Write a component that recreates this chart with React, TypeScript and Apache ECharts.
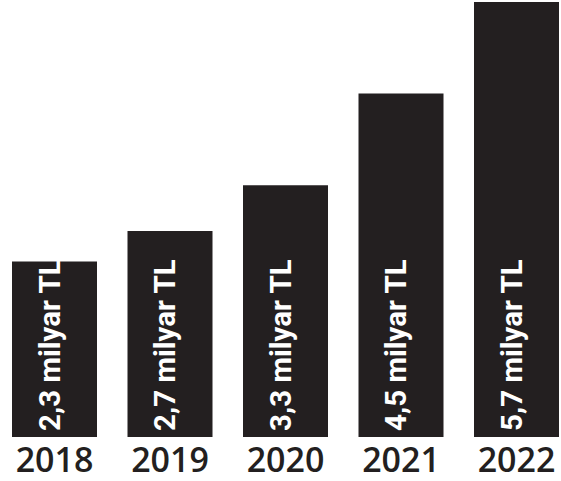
import React, { useEffect, useRef } from "react";
import * as echarts from "echarts";

const years = ["2018", "2019", "2020", "2021", "2022"];
const values = [2.3, 2.7, 3.3, 4.5, 5.7];
const labels = ["2,3 milyar TL", "2,7 milyar TL", "3,3 milyar TL", "4,5 milyar TL", "5,7 milyar TL"];

export default function App() {
  const ref = useRef<HTMLDivElement>(null);
  useEffect(() => {
    if (!ref.current) return;
    const chart = echarts.init(ref.current, null, { renderer: "svg" });
    chart.setOption({
      animation: false,
      backgroundColor: "#ffffff",
      grid: { left: -3.25, width: 577.5, top: 2, bottom: 44, containLabel: false, outerBoundsMode: "none" },
      xAxis: {
        type: "category",
        data: years,
        axisLine: { show: false },
        axisTick: { show: false },
        axisLabel: {
          color: "#231f20",
          fontFamily: "Open Sans",
          fontWeight: 600,
          fontSize: 34,
          margin: 5,
        },
      },
      yAxis: { type: "value", min: 0, max: 5.7, show: false, splitLine: { show: false } },
      series: [
        {
          type: "bar",
          data: values.map((v, i) => ({ value: v, label: { formatter: labels[i] } })),
          barWidth: 85,
          itemStyle: { color: "#231f20" },
          label: {
            show: true,
            position: "insideBottom",
            rotate: 90,
            align: "left",
            verticalAlign: "middle",
            distance: 6,
            offset: [0, -5],
            color: "#ffffff",
            fontFamily: "Roboto",
            fontWeight: "bold",
            fontSize: 29.5,
          },
        },
      ],
    });
    return () => chart.dispose();
  }, []);
  return <div ref={ref} style={{ width: 561, height: 481, position: "absolute", left: 0, top: 0 }} />;
}
